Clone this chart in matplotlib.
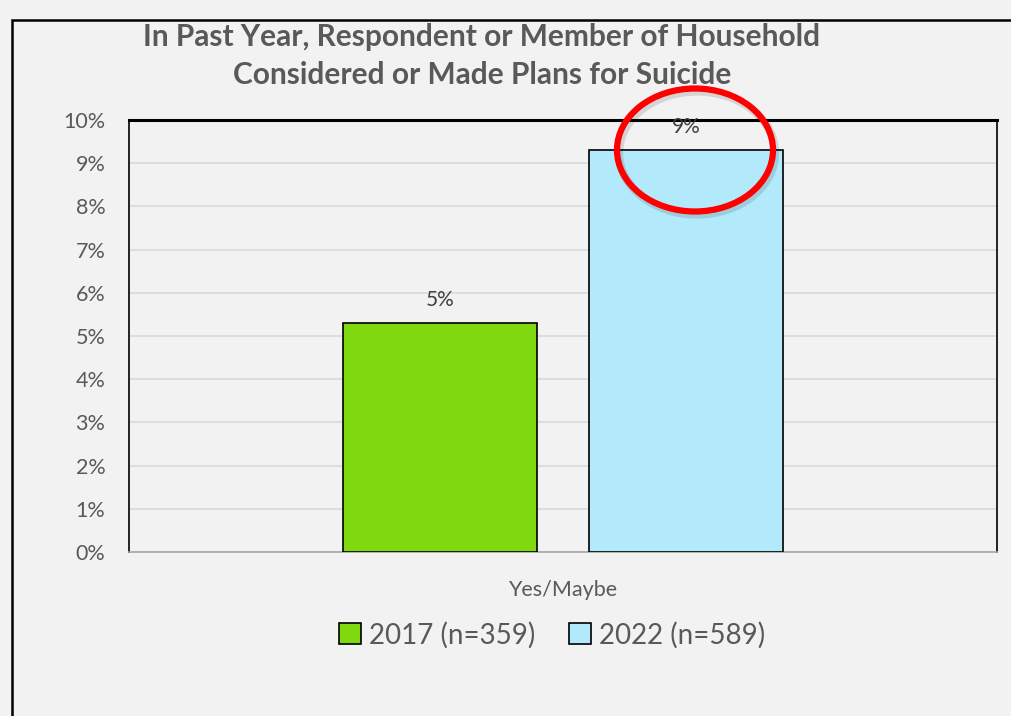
import numpy as np
import matplotlib.pyplot as plt
from matplotlib.patches import Ellipse, Rectangle, Patch

# DATA
category = ["Yes/Maybe"]
series_names = ["2017 (n=359)", "2022 (n=589)"]
values = [5.3, 9.3]
value_labels = ["5%", "9%"]
bar_colors = ["#80D90E", "#B3EAFB"]
yticks = [0, 1, 2, 3, 4, 5, 6, 7, 8, 9, 10]

plt.rcParams['font.family'] = ['Lato', 'DejaVu Sans']

fig = plt.figure(figsize=(10.12, 7.16), dpi=100)
fig.patch.set_facecolor("#F2F2F2")

# outer frame of the chart area
fig.patches.append(Rectangle((12/1012, -0.05), 1.2, 1 - 20/716 + 0.05,
                             transform=fig.transFigure, fill=False,
                             edgecolor="black", linewidth=1.8))

ax = fig.add_axes([129/1012, (716-552)/716, 868/1012, 432/716])
ax.set_facecolor("#F2F2F2")

width = 0.2235
offsets = [-0.1417, 0.1417]
for i in range(len(values)):
    ax.bar(0 + offsets[i], values[i], width=width, color=bar_colors[i],
           edgecolor="black", linewidth=1.2, zorder=3)
    ax.text(0 + offsets[i], values[i] + 0.3, value_labels[i], ha="center",
            va="bottom", fontsize=15, color="#404040", zorder=4)

ax.set_xlim(-0.5, 0.5)
ax.set_ylim(0, 10)
ax.set_yticks(yticks)
ax.set_yticklabels([str(t) + "%" for t in yticks], fontsize=15.5, color="#595959")
ax.set_xticks([0])
ax.set_xticklabels(category, fontsize=15.5, color="#595959")
ax.tick_params(length=0)
ax.tick_params(axis="y", pad=17)
ax.tick_params(axis="x", pad=20)
ax.grid(axis="y", color="#D9D9D9", linewidth=1.2, zorder=0)

for s in ["left", "right"]:
    ax.spines[s].set_color("black")
    ax.spines[s].set_linewidth(1.2)
ax.spines["top"].set_color("black")
ax.spines["top"].set_linewidth(2.2)
ax.spines["bottom"].set_color("#A6A6A6")
ax.spines["bottom"].set_linewidth(1.2)

fig.text(482/1012, 1 - 37/716, "In Past Year, Respondent or Member of Household",
         ha="center", va="center", fontsize=21.5, fontweight="bold", color="#595959")
fig.text(482/1012, 1 - 75/716, "Considered or Made Plans for Suicide",
         ha="center", va="center", fontsize=21.5, fontweight="bold", color="#595959")

handles = [Patch(facecolor=bar_colors[i], edgecolor="black", linewidth=1.2,
                 label=series_names[i]) for i in range(len(series_names))]
fig.legend(handles=handles, loc="center", bbox_to_anchor=(552/1012, 1 - 635/716),
           ncol=2, frameon=False, fontsize=20, handlelength=0.8, handleheight=0.8,
           handletextpad=0.3, columnspacing=1.2, labelcolor="#595959")

# red circle highlighting the 2022 bar
shadow = Ellipse((697/1012, 1 - 153/716), 156/1012, 123/716, transform=fig.transFigure,
                 fill=False, edgecolor="#000000", alpha=0.12, linewidth=6, zorder=9)
ring = Ellipse((695/1012, 1 - 150/716), 156/1012, 123/716, transform=fig.transFigure,
               fill=False, edgecolor="#FF0000", linewidth=4.5, zorder=10)
fig.patches.append(shadow)
fig.patches.append(ring)

fig.savefig("out.png", dpi=100, facecolor=fig.get_facecolor())
